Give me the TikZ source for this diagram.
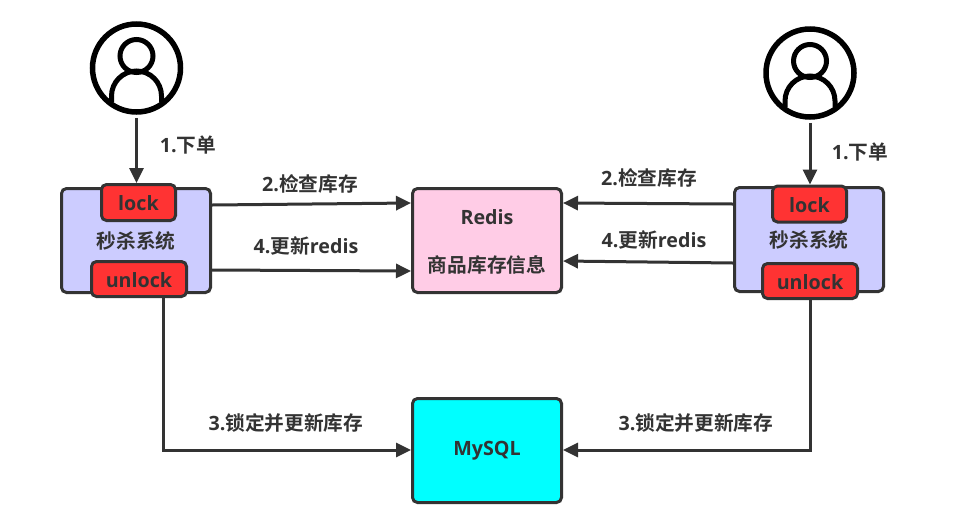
\documentclass[tikz,border=0pt]{standalone}
\usepackage{fontspec}
\usetikzlibrary{arrows.meta}
\setmainfont{Open Sans}[BoldFont=* Bold]
\newfontfamily\cjk{Noto Sans CJK SC}[BoldFont=* Bold]
\definecolor{ink}{HTML}{333333}
\definecolor{sysfill}{HTML}{CCCCFF}
\definecolor{tagfill}{HTML}{FF3333}
\definecolor{redisfill}{HTML}{FFCCE6}
\definecolor{dbfill}{HTML}{00FFFF}
\newcommand{\lowered}[2]{\raisebox{-#1}[\height][\depth]{#2}}
\tikzset{
  x=1pt,y=-1pt,
  base/.style={font=\fontsize{19.7}{23}\selectfont\bfseries,text=ink},
  boxed/.style={base,draw=ink,line width=3pt,rounded corners=5pt,inner sep=0pt},
  sysbox/.style={boxed,fill=sysfill,minimum width=149pt,minimum height=104pt},
  tagbox/.style={boxed,fill=tagfill,minimum height=36pt},
  storebox/.style={boxed,minimum width=149pt,minimum height=104pt},
  txt/.style={base,inner sep=0pt},
  conn/.style={draw=ink,line width=3pt,-{Triangle[length=15pt,width=14pt]}},
  person/.style={draw=black,line width=5.5pt},
  personin/.style={draw=black,line width=5pt},
}
\begin{document}
\begin{tikzpicture}
\useasboundingbox (0,0) rectangle (973,520);
% left user
\node[circle,person,minimum size=88pt,inner sep=0pt] (uL) at (136.5,68) {};
\draw[personin] (136.5,56) circle[radius=16.5];
\draw[personin] (111.5,102) -- (111.5,96) arc[start angle=180,end angle=360,radius=25] -- (161.5,102);
% right user
\node[circle,person,minimum size=88pt,inner sep=0pt] (uR) at (810,73) {};
\draw[personin] (810,61) circle[radius=16.5];
\draw[personin] (785,107) -- (785,101) arc[start angle=180,end angle=360,radius=25] -- (835,107);
% systems
\node[sysbox] (sL) at (136,240.5) {\cjk 秒杀系统};
\node[tagbox,minimum width=74pt] (lockL) at (138.5,202.5) {\lowered{1pt}{lock}};
\node[tagbox,minimum width=95pt,minimum height=35pt] (unlockL) at (139,279) {\lowered{1pt}{unlock}};
\node[sysbox] (sR) at (809,239.5) {\cjk 秒杀系统};
\node[tagbox,minimum width=74pt] (lockR) at (809.5,204) {\lowered{1.5pt}{lock}};
\node[tagbox,minimum width=95pt,minimum height=35pt] (unlockR) at (810,281) {\lowered{1pt}{unlock}};
% stores
\node[storebox,fill=redisfill] (redis) at (487,240.5) {};
\node[txt] (redisA) at (487,217) {Redis};
\node[txt] (redisB) at (487,265) {\cjk 商品库存信息};
\node[storebox,fill=dbfill] (mysql) at (487,450.5) {MySQL};
% connectors
\draw[conn] (uL.south) ++(0,3) -- (lockL.north -| uL.south);
\draw[conn] (uR.south) ++(0,3) -- (lockR.north -| uR.south);
\draw[conn] (sL.east |- 0,205) -- (redis.west |- 0,203);
\draw[conn] (sL.east |- 0,270) -- (redis.west |- 0,271);
\draw[conn] (sR.west |- 0,204) -- (redis.east |- 0,203);
\draw[conn] (sR.west |- 0,263) -- (redis.east |- 0,261);
\coordinate (bendL) at (163,450);
\coordinate (bendR) at (810,450);
\draw[conn] (unlockL.south -| bendL) -- (bendL) -- (mysql.west |- bendL);
\draw[conn] (unlockR.south -| bendR) -- (bendR) -- (mysql.east |- bendR);
% labels
\node[txt] (l1L) at (188,145) {1.\cjk 下单};
\node[txt] (l1R) at (860,152) {1.\cjk 下单};
\node[txt] (l2L) at (310,184) {2.\cjk 检查库存};
\node[txt] (l4L) at (306,246) {4.\cjk 更新\normalfont\bfseries redis};
\node[txt] (l2R) at (649,178) {2.\cjk 检查库存};
\node[txt] (l4R) at (654,240) {4.\cjk 更新\normalfont\bfseries redis};
\node[txt] (l3L) at (286,423) {3.\cjk 锁定并更新库存};
\node[txt] (l3R) at (696,423) {3.\cjk 锁定并更新库存};
\end{tikzpicture}
\end{document}
